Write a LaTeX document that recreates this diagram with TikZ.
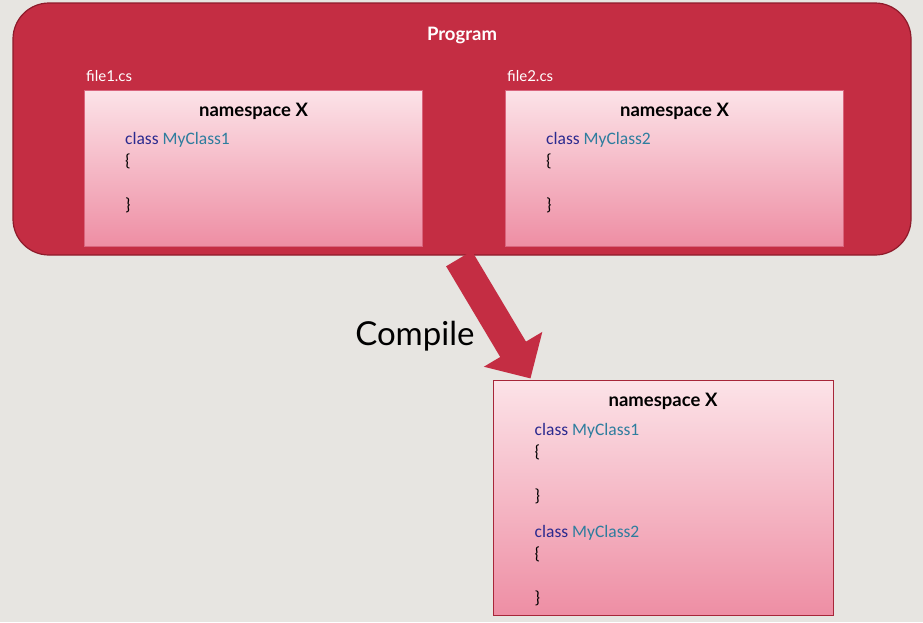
\documentclass[tikz,border=0pt]{standalone}
\usepackage{fontspec}
\setmainfont{Lato}
\newfontfamily\codefont{Carlito}
\usetikzlibrary{arrows.meta,positioning,calc}

\definecolor{progred}{HTML}{C42D43}
\definecolor{progedge}{HTML}{8E1B2B}
\definecolor{pinktop}{HTML}{FCE3E8}
\definecolor{pinkbot}{HTML}{EE8EA4}
\definecolor{pinkedge}{HTML}{D9657D}
\definecolor{keyblue}{HTML}{2B2A8F}
\definecolor{typeteal}{HTML}{2E7D9E}
\definecolor{slidebg}{HTML}{E7E5E1}

\newcommand{\kw}[1]{\textcolor{keyblue}{#1}}
\newcommand{\ty}[1]{\textcolor{typeteal}{#1}}

\begin{document}
\begin{tikzpicture}[x=1pt,y=-1pt,
    progbox/.style={rectangle,rounded corners=36pt,fill=progred,draw=progedge,
                    line width=1.2pt,minimum width=898pt,minimum height=252pt},
    filebox/.style={rectangle,top color=pinktop,bottom color=pinkbot,draw=pinkedge,
                    line width=1pt,minimum width=338pt,minimum height=156pt},
    outbox/.style={filebox,draw=progred!85!black,minimum width=340pt,minimum height=235pt},
    nstitle/.style={anchor=base,font=\fontsize{18.5}{22}\selectfont\bfseries},
    code/.style={anchor=north west,inner sep=0pt,align=left,text=black,
                 font=\codefont\fontsize{17.5}{21.5}\selectfont},
    filename/.style={anchor=base west,inner sep=0pt,text=white,
                     font=\fontsize{15}{18}\selectfont},
    compilearrow/.style={line width=30pt,draw=progred,
                         -{Triangle[length=34pt,width=66pt]}}]

  \fill[slidebg] (0,0) rectangle (923,622);
  \useasboundingbox (0,0) rectangle (923,622);

  % program with its two files
  \node[progbox] (prog) at (462,129) {};
  \node[text=white,font=\fontsize{18.5}{22}\selectfont\bfseries] (progname) at (462,35) {Program};

  \node[filebox] (file1) at (253.5,168) {};
  \node[filebox] (file2) at (674.5,168) {};
  \node[filename] (file1name) at ($(file1.north west)+(2,-8)$) {file1.cs};
  \node[filename] (file2name) at ($(file2.north west)+(2,-8)$) {file2.cs};

  \node[nstitle] (ns1) at ($(file1.north)+(0,27)$) {namespace X};
  \node[nstitle] (ns2) at ($(file2.north)+(0,27)$) {namespace X};
  \node[code] (code1) at ($(file1.north west)+(41,43)$)
       {\kw{class} \ty{MyClass1}\\ \{\\[23pt] \}};
  \node[code] (code2) at ($(file2.north west)+(41,43)$)
       {\kw{class} \ty{MyClass2}\\ \{\\[23pt] \}};

  % compiled result
  \node[outbox] (merged) at (663,497.5) {};
  \node[nstitle] (ns3) at ($(merged.north)+(0,27)$) {namespace X};
  \node[code] (code3) at ($(merged.north west)+(42,44)$)
       {\kw{class} \ty{MyClass1}\\ \{\\[23pt] \}\\[14.5pt]
        \kw{class} \ty{MyClass2}\\ \{\\[23pt] \}};

  \coordinate (arrowtip) at ($(merged.north west)+(38,-1)$);
  \draw[compilearrow] ($(prog.south)+(-3,3)$) -- (arrowtip);
  \node[font=\fontsize{33}{38}\selectfont,anchor=base east] (compile) at (478,345) {Compile};

\end{tikzpicture}
\end{document}
